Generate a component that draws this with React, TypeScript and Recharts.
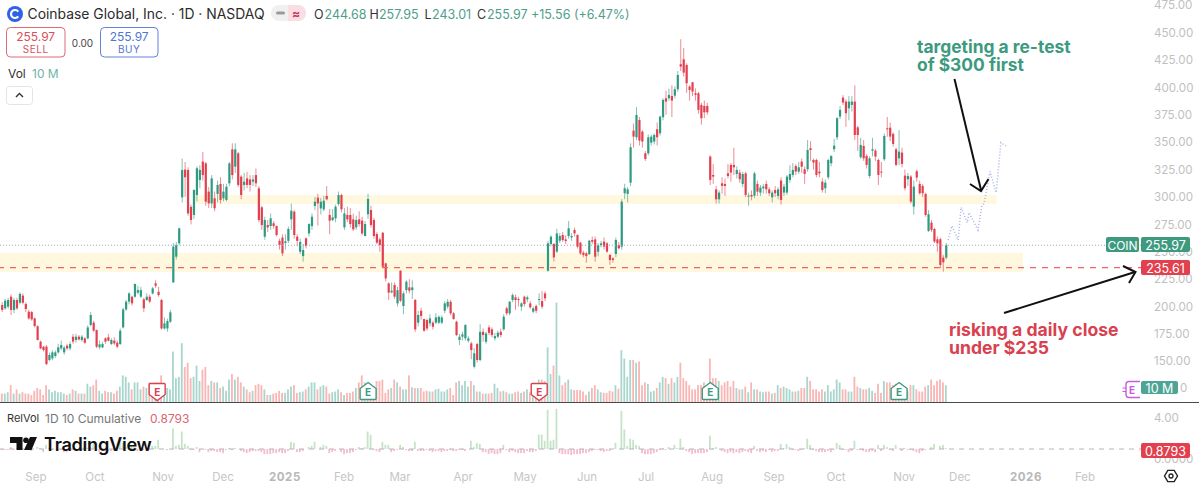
import React from "react";
import {
  ComposedChart,
  Bar,
  Line,
  XAxis,
  YAxis,
  ReferenceArea,
  ReferenceLine,
} from "recharts";

type Row = number[];

// Daily candles: [open, high, low, close]
const candlesAug24: Row[] = [
  [201.4,204,195,196.9],[198.4,207,197,205.4],[199.9,208,198,206],[209,211,192.3,196.9],[196.9,208,194,206],
  [206,208,197,198.4],[203.5,213,202,211.5],[210,212,202,203.5],[202.3,204,195,197.8],[195.3,197,188,189.2],
  [195,196,187,188.3],[189.2,190,181,182.2],
];
const candlesSep24: Row[] = [
  [182,183,169,169.5],[168,169,161,161.8],[163.4,164,159,160.3],[163.4,165,146.5,147.5],[151.2,158,150,155.8],
  [152.7,160,151,158.2],[154.9,160,153,158.2],[158.2,166,157,162.8],[161.8,169,160,164.9],[158.2,164,156,162.5],
  [164.3,166,160,161.8],[161.8,168,160,165.8],[172.5,175,166,168],[169.5,175,167,172.5],[172.5,174,169,170],
  [169.5,174,168,172.5],[171,172,166,167],[171,183,170,181],[183.2,195,182,192.3],[185.3,187,177,178],
];
const candlesOct24: Row[] = [
  [178.6,179,162,163.4],[162.8,169,161,165.5],[162.8,168,162,165.8],[171,172,166,168],[172,175,168,168.9],
  [165.8,171,165,169.5],[168.9,172,165,166.4],[167,169,162,163.4],[165.8,180,165,178],[181,199,180,197.4],
  [197.4,206,196,204.5],[204.5,213,202,212],[209,210,201,203],[209,221,208,220.6],[212.7,219,211,215],
  [209,218,208,215],[206.6,208,195,198.4],[206,212,205,209],[209,211,203,204.5],[212,218,211,216.6],
  [221.2,224,217,219],[213.5,218,209,210.5],[206,207,179,180],
];
const candlesNov24: Row[] = [
  [180,190,179,184.7],[180,189,177,186.8],[186.2,197,185,194.7],[222,258,222,254.7],[245.5,259,243,256],
  [257.7,272,256,271.4],[299.7,335,295,324.7],[325,332,300,318],[324.7,327,283,285],[291,293,275,279],
  [283.6,307,280,306.4],[301.8,328,296,326.2],[315.5,329,308,324.7],[332.3,341,315,320],[330.7,332,292,295.7],
  [304.9,309,290,294.2],[294.2,320,290,317],[298.8,305,287,289.7],[302.8,315,295,311],[311.9,318,294,297.3],
];
const candlesDec24: Row[] = [
  [298.8,312,296,304.9],[297.3,312,296,309.4],[312.5,332,310,330.7],[343.5,349,316,320],[327.7,349,322,343.5],
  [339.9,341,309,311],[318.6,320,298,301.8],[311,322,306,314],[317,323,308,311],[316,320,305,311],
  [314,320,310,316],[320,326,309,312.5],[307.9,310,277,279],[290.6,292,270,274.4],[263.8,282,261,279],
  [274.4,279,268,272.3],[273.5,285,270,280.5],[276,278,271,273.5],[273.5,274,264,265.3],[260,262,252,256.2],
  [263,266,246,248.6],
];
const candlesJan25: Row[] = [
  [258,266,252,259.5],[260,273,258,270.8],[279.6,294,270,287.5],[286.6,288,262,265.3],[263.8,266,255,260],
  [250,262,248,259],[246.1,257,241,251.6],[262.3,263,253,255.3],[266.8,276,264,275.3],[273.5,285,270,282],
  [291.8,300,288,295.7],[299.4,303,274,294.2],[289.6,299,284,295.7],[288.7,301,287,296.6],[301,310,297,297.9],
  [283.6,289,266,278.4],[279,289,278,281.4],[280.5,293,277,291.2],[293.6,305,292,301.8],[301.8,303,286,288.7],
];
const candlesFeb25: Row[] = [
  [272.3,290,270,285],[283.6,291,277,279.6],[283.6,290,272,275.3],[279.6,285,269,270.5],[272.3,283,270,279],
  [279.6,287,273,275.3],[278.4,282,265,266.8],[264.4,278,264,275.3],[284.2,303,280,298.2],[288.1,292,272,274.4],
  [279,281,262,264.4],[266.2,268,257,258.3],[261.3,263,250,256.2],[267.4,268,236,236.4],[239.4,240,223,225.7],
  [221.2,222,206,212.7],[213,222,212,214.5],[219.7,222,207,209],[202.9,218,200,215],
];
const candlesMar25: Row[] = [
  [232.7,233,204,205.3],[200.5,214,193,212],[215,224,212,222.7],[217.5,225,212,214.5],[215,224,207,217.5],
  [206,207,177,179.2],[185.3,196,182,192.3],[196.2,199,188,191.4],[188.6,189,177,178],[187.7,189,178,180],
  [184.7,193,182,189.2],[185.3,187,179,181.6],[185.3,194,184,190.1],[185.3,192,184,190.7],[185.3,192,184,190.1],
  [196.2,205,194,202.9],[199.9,207,198,204.4],[204.4,206,192,193.8],[193.8,195,188,188.6],[186.2,187,173,174],
  [169.5,175,165,172.5],
];
const candlesApr25: Row[] = [
  [172.5,177,169,174.6],[171,184,169,183.1],[168.8,173,167,171],[166.4,168,152,160.3],[145.1,162,143.5,157.3],
  [165.8,167,149,151.2],[151.2,184,150,177],[177,180,168,174],[167.9,177,166,175.5],[181,183,174,176],
  [179.2,181,172,174],[171,176,169,173],[172.5,178,171,176.1],[177,180,172,174],[179.2,193,178,190.7],
  [198.4,200,192,193.8],[193.8,205,192,204.4],[206,212,204,210.5],[208.4,211,197,206],[206.9,209,200,206],
];
const candlesMay25: Row[] = [
  [199.9,204,196,202.9],[209,210,200,202.3],[206.6,210,204,208.4],[202.9,205,198,199.3],[195.3,200,194,198.4],
  [200.5,202,194,196.2],[206,212,201,206.9],[205,214,198,199.9],[212,214,205,207.5],[232.7,260,231.8,257.7],
  [257.1,265,255,263.8],[257.1,258,241,244.9],[250.1,271,249,266.8],[260.1,267,258,264.4],[265.3,268,259,260.7],
  [261.3,265,257,259.8],[264.4,278,262,271.4],[263.2,267,260,264.4],[269.9,272,264,266.8],[265.3,266,253,254.7],
  [258.3,259,247,248.6],
];
const candlesJun25: Row[] = [
  [249.2,251,245,247],[248.6,250,240,246.1],[247.9,261,247,260.1],[260.7,264,257,259.2],[261.3,264,241,245.5],
  [250,258,246,256],[256.2,260,254,257.7],[259.3,263,252,254.7],[257.7,259,249,250.1],[247.1,248,238,242.5],
  [244,245,240,242.5],[248,263,245,260.8],[256.2,259,252,253.2],[254.7,298,252,295.8],[303.4,312,298,308],
  [302.8,309,295,307],[313.1,349,310,345.4],[360.6,367,345,355.1],[354.5,382,352,374.9],[370.3,373,347,351.5],
];
const candlesJul25: Row[] = [
  [359.7,361,345,350.6],[339.9,342,333,334.7],[339.9,357,338,354.5],[349.6,357,347,355.1],[350.6,358,348,356.6],
  [361.8,368,347,354.5],[358.2,374,356,373.4],[372.8,390,370,388.6],[390.1,397,375,387.1],[390.1,399,388,393.2],
  [392.2,402,373,388],[392.5,401,390,398.3],[398.3,415,396,411.4],[421.2,444,415,419],[425.7,436,410,413.5],
  [420.5,422,395,403.8],[400.8,402,388,397.7],[404.7,405,392,396.2],[394.7,399,388,393.2],[394.7,396,376,379.5],
  [384,386,366,371.9],[383.1,388,372,377.3],[383.1,386,375,377.3],
];
const candlesAug25: Row[] = [
  [336.9,338,311,315.6],[320.1,330,312,318.6],[307,310,294,297.9],[297.9,306,294,304],[312.5,318,303,310.1],
  [311.9,317,301,310.1],[321.6,330,317,319.2],[329.3,331,314,322.3],[329.3,345,320,327.1],[321,328,317,324.7],
  [322.3,325,313,316.2],[311.9,323,309,321],[321.6,323,300,301.9],[300.4,304,292,301.3],[301.9,306,297,300.4],
  [301.3,323,299,321.6],[311.9,315,301,304.9],[304,311,301,308.6],[308,312,303,309.5],[311.9,315,303,307],
  [307,309,301,303.4],
];
const candlesSep25: Row[] = [
  [299.7,306,295,304],[306.4,310,300,303.4],[300.9,309,298,307],[315,318,293,297.3],[304,312,301,309.5],
  [304,320,302,318.6],[315.6,329,313,321],[320.1,331,318,324.7],[328.3,330,320,323.2],[323.2,332,321,327.1],
  [332.3,335,322,327.7],[325.3,328,312,321],[325.3,352,323,342.9],[344.5,351,333,342.9],[333.8,335,325,331.4],
  [333.8,335,318,320.1],[323.2,332,318,321.6],[314,317,304,306.4],
];
const candlesOct25: Row[] = [
  [308,316,303.4,313.1],[318,335,316,333.8],[330.8,338,328,337.5],[343.6,353,341,346.9],[354.5,373,352,371.9],
  [373.4,383,371,379.5],[390.7,393,384,386.2],[387.1,389,364,376.4],[381,392,370,387.1],[384,392,378,387.1],
  [387.1,402,352,356.6],[363.6,365,342,356.6],[336.3,354,335,347.5],[346.6,352,333,335.3],[337.5,339,326,329.3],
  [319.2,337,317,335.3],[342.3,354,337,343.6],[342.3,344,333,336.9],[333.8,335,311,320.1],[323.2,332,318,322.3],
  [334.4,358,333,355.7],[362.7,373,355,361.8],[363.3,368,351,355.1],[357.6,359,346,348.4],
];
const candlesNov25: Row[] = [
  [343.6,345,328,329.3],[335.3,361,329,341.4],[340.5,345,327,330.2],[319.5,325,306,308],[316.2,322,310,319.2],
  [318.6,320,294,295.8],[291.2,315,284,309.5],[323.5,325,314,317.7],[311.9,315,302,303.4],[310.1,312,300,303.4],
  [302.8,304,282,283.6],[269,288,268,284.2],[276.6,279,268,270],[270.8,272,258,259.3],[261.4,264,250,257.7],
  [261.4,263,235,238],[244.7,247,231.9,240.4],[244.68,257.95,243.01,255.97],
];
const candles: Row[] = [
  ...candlesAug24, ...candlesSep24, ...candlesOct24, ...candlesNov24, ...candlesDec24,
  ...candlesJan25, ...candlesFeb25, ...candlesMar25, ...candlesApr25, ...candlesMay25,
  ...candlesJun25, ...candlesJul25, ...candlesAug25, ...candlesSep25, ...candlesOct25, ...candlesNov25,
];

// Volume in millions
const volumes2024: number[] = [
  6,6,7,12,6,9,6,7,6,6,5,
  8,10,9,5,12,9,7,8,7,7,
  6,5,6,9,8,6,6,6,13,11,
  12,16,8,6,8,7,7,6,8,11,
  19,18,14,9,14,14,9,11,10,14,
  12,14,14,19,10,10,9,36,17,18,
  42,25,28,17,18,26,15,23,25,12,
  15,14,14,10,11,8,16,20,16,18,
  14,11,9,7,8,12,13,12,9,5,
  5,6,6.5,8,6.5,6.5,9,11,12,6.5,
];
const volumes2025a: number[] = [
  7,7.5,9,11,14,14,9,11,12,11,
  6,7,7.5,9,7,5,6.5,6.5,7.5,10,
  14,19,14,9,7.5,6.5,15,15,16,6.5,
  9,10,16,14,11,9,9,19,10.5,10,
  10,10,7.5,8,7.5,7.5,9,9.5,7.5,7.5,
  9,10,5,14,15,12,15,11,15,12,
  7.5,7.5,6,6,6,6.5,13,10,7.5,8,
  7,6,6,7,7.5,6.5,7.5,9,7,8,
  6,16,16,15,39,20,26,71,19,12,
  14,16,9,8.5,8.5,8.5,7.5,5,7.5,10,12,9,
];
const volumes2025b: number[] = [
  7,6.5,6.5,8,7.5,12,9.5,37,31,18,
  30,30,28,29,12,14,13,7.5,8,10,
  14,18,17,13,17,14,18,28,17,15,
  12,9,9,12,12,14,12,31,17,17,
  15,12,14,15,11,15,10,9,9,11,
  7,14,9,9,7.5,7,7.5,7.5,6,6.5,
  12,10,11,10,9,7.5,7.5,8,10,10,
  18,15,9,9,7.5,9,7.5,12,7.5,9,
  16,14,9,9,7.5,7.5,18,11,10,9,
  9,10,8,6.5,13,6.5,15,14,14,12,
  13,12,9,9,7.5,12,12,9,7.5,7.5,
  11,12,16,12,15,16,14,12,10,
];
const volumes: number[] = [...volumes2024, ...volumes2025a, ...volumes2025b];

// Relative volume histogram, around 1
const relVol2024: number[] = [
  .9,.9,.9,1.2,.9,1.1,.9,.9,.9,.9,
  .8,1,1.2,1.1,.7,1.4,1.1,.9,1,.9,
  .9,.7,.7,.9,.9,.8,.8,.9,1.2,1.1,
  1.2,1.5,.9,.7,.9,.8,.8,.8,.9,1.2,
  1.7,1.6,1.2,.9,1.2,1.2,.8,1,.9,1.2,
  1.1,1.3,1.3,1.9,1,1,.9,1,3,1.3,
  1.4,2.7,1.5,1.3,.9,.9,1.2,.7,1,.9,
  .7,.8,.8,.7,.7,.6,.9,1.1,.9,1.1,
  1,.8,.7,.6,.7,.8,.8,.8,.7,.5,
  .5,.5,.6,.6,.7,.6,.6,.8,1.7,1.6,
];
const relVol2025a: number[] = [
  .7,.7,.8,1,1.2,1.3,1.7,1,1.2,1.4,
  1.3,.6,.7,.8,1,.7,.5,.6,.6,.7,
  .9,1.2,1.1,1.2,2.7,2.4,.9,.8,.7,1.7,
  1.4,1.4,.7,.8,.9,1.4,1.2,.9,.8,.8,
  1.7,.8,.8,.8,.9,.8,.7,.8,.8,.7,
  .8,.8,.9,.8,.8,.9,.9,.8,1,1.8,
  1.2,1.6,1.5,.7,.7,.5,.6,.5,.5,.6,
  1.4,.9,.7,.8,.7,.6,.6,.6,.8,.7,
  .7,.8,2.4,2.4,1.8,4.8,1.8,1.9,4.9,.6,
  .5,.5,.5,.4,.5,.5,.5,.6,.6,.7,.8,.9,.9,
];
const relVol2025b: number[] = [
  .8,.7,.8,.8,1,1.6,1,4.7,
  2.9,1.3,2,1.9,1.4,1.3,.6,.5,.5,.5,
  .6,.7,.9,1.1,.9,1.2,1,1.4,1.1,2,
  1.2,.8,.7,.5,.6,.6,.6,.6,.7,2.3,
  1.1,1.2,1,.8,.7,.6,.7,.6,.7,.6,
  .7,.8,.7,.6,1.3,.8,.7,.8,.7,.9,
  .7,.8,.8,1.5,1.1,1.5,1.2,.9,.9,.8,
  .9,1.1,2,1.4,.9,.8,.7,.7,.7,.8,
  .7,.9,1.6,1.4,.9,.9,.7,.8,1.8,.9,
  .9,.8,.7,.7,.8,.7,1.4,.8,1.4,1.2,
  .9,.8,1.4,1,.8,1.1,.9,.9,.8,.7,
  .6,.8,.9,1,1.2,1.5,1,1.3,1.4,1.1,.8793,
];
const relVol: number[] = [...relVol2024, ...relVol2025a, ...relVol2025b];

// Blue dotted projection drawn on the chart
const forecastBars: number[] = [320.6,321.9,324,325,327.1,327.7,330.7,332,332.8,334.8,336.9,338.5,340.2];
const forecastPrices: number[] = [260.8,273.6,260.8,290.6,276.6,285.7,269.9,291.2,294.3,323.2,304,349.6,346.6];

const priceTicks: number[] = [150,175,200,225,250,275,300,325,350,375,400,425,450,475];
const timeTickBars: number[] = [11.4,31.4,54.5,74.8,95.8,115.8,134.8,156.2,177.2,198.2,218.2,240.6,261.6,282.6,305.7,324.6,347,367];
const timeTickLabels: string[] = ["Sep","Oct","Nov","Dec","2025","Feb","Mar","Apr","May","Jun","Jul","Aug","Sep","Oct","Nov","Dec","2026","Feb"];
const earningsBars: number[] = [52.5,124,182,240,304];
const earningsBeat: boolean[] = [false,true,false,true,true];

const WIDTH = 1199;
const AXIS_W = 55;
const X_DOMAIN: [number, number] = [-0.78, 387];
const FONT = "Inter, 'Noto Sans', sans-serif";
const UP = "#2f9a82";
const DOWN = "#e2404e";
const GREY = "#bfbfbf";

const data = candles.map((r, i) => ({
  i,
  o: r[0],
  h: r[1],
  l: r[2],
  c: r[3],
  range: [r[2], r[1]],
  vol: volumes[i] ?? 0,
  rv: relVol[i] ?? 1,
  rvRange: [Math.min(1, relVol[i] ?? 1), Math.max(1, relVol[i] ?? 1)],
}));
const forecast = forecastBars.map((b, k) => ({ i: b, p: forecastPrices[k] }));

const Candle = (props: any) => {
  const { x, y, width, height, payload } = props;
  const { o, h, l, c } = payload;
  const up = c >= o;
  const ppu = height / Math.max(h - l, 0.001);
  const cx = x + width / 2;
  const top = y + (h - Math.max(o, c)) * ppu;
  const bh = Math.max(1, Math.abs(o - c) * ppu);
  const col = up ? UP : DOWN;
  return (
    <g>
      <line x1={cx} x2={cx} y1={y} y2={y + height} stroke={col} strokeWidth={1} strokeOpacity={0.6} />
      <rect x={cx - 1.1} y={top} width={2.2} height={bh} fill={col} />
    </g>
  );
};

const VolBar = (props: any) => {
  const { x, y, width, height, payload } = props;
  const cx = x + width / 2;
  return (
    <rect
      x={cx - 0.9}
      y={y}
      width={1.8}
      height={height}
      fill={payload.c >= payload.o ? "#a8d6cd" : "#f8b6b4"}
    />
  );
};

const RvBar = (props: any) => {
  const { x, y, width, height, payload } = props;
  const cx = x + width / 2;
  return (
    <rect
      x={cx - 0.9}
      y={y}
      width={1.8}
      height={height}
      fill={payload.rv >= 1 ? "#c6e3c8" : "#f6bccb"}
    />
  );
};

const TimeTick = (props: any) => {
  const { x, y, payload } = props;
  const label = timeTickLabels[timeTickBars.indexOf(payload.value)];
  const strong = label && label.startsWith("20");
  return (
    <text
      x={x}
      y={y + 4}
      textAnchor="middle"
      dominantBaseline="central"
      fontFamily={FONT}
      fontSize={11.5}
      fontWeight={strong ? 700 : 400}
      letterSpacing={strong ? 0.6 : 0}
      fill={strong ? "#b8b8b8" : "#c6c6c6"}
    >
      {label}
    </text>
  );
};

const EarningsMark = ({ bar, beat }: { bar: number; beat: boolean }) => {
  const cx = 2.3 + 2.95 * bar;
  const col = beat ? "#3d9a7f" : "#d9414f";
  const d = beat
    ? `M${cx},382.5 l8,6 v10 q0,1 -1,1 h-14 q-1,0 -1,-1 v-10 z`
    : `M${cx - 8},384.5 q0,-1 1,-1 h14 q1,0 1,1 v10 l-8,6 l-8,-6 z`;
  return (
    <g>
      <path d={d} fill="#fff" stroke={col} strokeWidth={1.4} />
      <text x={cx} y={392} textAnchor="middle" dominantBaseline="central" fontFamily={FONT} fontSize={10} fontWeight={700} fill={col}>
        E
      </text>
    </g>
  );
};

const Tag = ({ x, y, w, h, fill, text, size = 12.5 }: any) => (
  <g>
    <rect x={x} y={y} width={w} height={h} rx={2} fill={fill} />
    <text x={x + w / 2} y={y + h / 2 + 0.5} textAnchor="middle" dominantBaseline="central" fontFamily={FONT} fontSize={size} fill="#fff">
      {text}
    </text>
  </g>
);

const Txt = ({ x, y, fill = "#333", size = 13, weight = 400, anchor = "start", spacing = 0, children }: any) => (
  <text x={x} y={y} dominantBaseline="central" textAnchor={anchor} fontFamily={FONT} fontSize={size} fontWeight={weight} letterSpacing={spacing} fill={fill}>
    {children}
  </text>
);

const Overlay = () => (
  <svg width={WIDTH} height={486} style={{ position: "absolute", left: 0, top: 0, pointerEvents: "none" }}>
    {/* pane divider */}
    <line x1={0} x2={WIDTH} y1={402.5} y2={402.5} stroke="#4a4a4a" strokeWidth={1} />

    {/* header */}
    <circle cx={15} cy={14} r={8} fill="#2f62e6" />
    <path d="M18.2,11.6 A4,4 0 1 0 18.2,16.4" fill="none" stroke="#fff" strokeWidth={2.2} />
    <Txt x={27.5} y={14} size={13.9} fill="#2c2c2c">Coinbase Global, Inc. · 1D · NASDAQ</Txt>
    <rect x={271} y={5} width={35} height={16} rx={8} fill="#f0f0f0" />
    <path d="M288,5 h10 a8,8 0 0 1 0,16 h-10 z" fill="#fbdde4" />
    <rect x={276} y={11.5} width={9} height={3} rx={1.5} fill="#9a9a9a" />
    <Txt x={296} y={13} size={12} anchor="middle" fill="#c23a55" weight={700}>≈</Txt>

    <Txt x={314} y={14} size={12.5}>O</Txt>
    <Txt x={324.5} y={14} size={12.5} fill="#4f9e8b">244.68</Txt>
    <Txt x={369.5} y={14} size={12.5}>H</Txt>
    <Txt x={379} y={14} size={12.5} fill="#4f9e8b">257.95</Txt>
    <Txt x={424.5} y={14} size={12.5}>L</Txt>
    <Txt x={432} y={14} size={12.5} fill="#4f9e8b">243.01</Txt>
    <Txt x={477} y={14} size={12.5}>C</Txt>
    <Txt x={487} y={14} size={12.5} fill="#4f9e8b">255.97</Txt>
    <Txt x={531} y={14} size={12.5} fill="#4f9e8b">+15.56 (+6.47%)</Txt>

    <rect x={6.5} y={27.5} width={58.5} height={29.5} rx={4} fill="#fff" stroke="#dd6b75" />
    <Txt x={35.7} y={36} size={12} anchor="middle" fill="#d9505c">255.97</Txt>
    <Txt x={35.7} y={49} size={10} anchor="middle" fill="#d9505c" spacing={0.5}>SELL</Txt>
    <Txt x={82.5} y={42.5} size={10} anchor="middle" fill="#444">0.00</Txt>
    <rect x={100.5} y={27.5} width={57.5} height={29.5} rx={4} fill="#fff" stroke="#6280dc" />
    <Txt x={129.2} y={36} size={12} anchor="middle" fill="#5273d8">255.97</Txt>
    <Txt x={129.2} y={49} size={10} anchor="middle" fill="#5273d8" spacing={0.5}>BUY</Txt>

    <Txt x={8} y={73} size={12} fill="#333">Vol</Txt>
    <Txt x={32} y={73} size={12} fill="#6fb3a8">10 M</Txt>
    <rect x={6.5} y={86.5} width={26} height={18} rx={3} fill="#fff" stroke="#e4e4e4" />
    <path d="M16,97 l3.5,-3.5 l3.5,3.5" fill="none" stroke="#333" strokeWidth={1.4} />

    {/* annotations */}
    <Txt x={917} y={46} size={17.4} weight={700} fill="#3d9a7f">targeting a re-test</Txt>
    <Txt x={917} y={64} size={17.4} weight={700} fill="#3d9a7f">of $300 first</Txt>
    <path d="M954.5,79 L981,190" fill="none" stroke="#111" strokeWidth={2} />
    <path d="M970,184 L981,191 L988.5,179" fill="none" stroke="#111" strokeWidth={2} />
    <Txt x={949} y={329} size={17.6} weight={700} fill="#d9414f">risking a daily close</Txt>
    <Txt x={949} y={347} size={17.6} weight={700} fill="#d9414f">under $235</Txt>
    <path d="M1004,313 L1135,272" fill="none" stroke="#111" strokeWidth={2} />
    <path d="M1123,266 L1135.5,272 L1129,283" fill="none" stroke="#111" strokeWidth={2} />

    {/* price tags */}
    <Tag x={1106} y={237} w={33} h={15} fill="#3d9a7f" text="COIN" size={12} />
    <Tag x={1141} y={237} w={49} h={15} fill="#3d9a7f" text="255.97" />
    <Tag x={1141} y={260} w={49} h={15} fill="#e2404e" text="235.61" />
    <Tag x={1141} y={381} w={37} h={13} fill="#4ea596" text="10 M" />
    <Txt x={1180} y={388} size={11.5} fill={GREY}>0</Txt>
    <Tag x={1141} y={443} w={49} h={15} fill="#e2404e" text="0.8793" />

    {/* pending earnings */}
    <path d="M1140,381.5 h-11 a3,3 0 0 0 -3,3 v10 a3,3 0 0 0 3,3 h11" fill="none" stroke="#c95be0" strokeWidth={1.4} />
    <path d="M1122.5,388 h3.5 M1122.5,391.5 h3.5" stroke="#c95be0" strokeWidth={1.2} />
    <Txt x={1132} y={390} size={10} weight={700} anchor="middle" fill="#c95be0">E</Txt>

    {/* earnings marks */}
    {earningsBars.map((b, k) => (
      <EarningsMark key={k} bar={b} beat={earningsBeat[k]} />
    ))}

    {/* sub pane legend */}
    <Txt x={7} y={418} size={11} fill="#333">RelVol</Txt>
    <Txt x={45} y={418} size={12} fill="#777">1D 10 Cumulative</Txt>
    <Txt x={150} y={418} size={12} fill="#d9656f">0.8793</Txt>

    {/* wordmark */}
    <path d="M10,437 h12.5 v13 h-6 v-7 h-6.5 z" fill="#111" />
    <circle cx={26} cy={440.3} r={2.8} fill="#111" />
    <path d="M30,437 h7 l-5.5,13 h-7.5 z" fill="#111" />
    <Txt x={44} y={444} size={18.2} weight={600} spacing={-0.3} fill="#111">TradingView</Txt>

    {/* settings */}
    <path d="M1164.5,476 l3.3,-5.6 h6.4 l3.3,5.6 l-3.3,5.6 h-6.4 z" fill="none" stroke="#222" strokeWidth={1.4} />
    <circle cx={1171} cy={476} r={2} fill="none" stroke="#222" strokeWidth={1.3} />
  </svg>
);

export default function App() {
  return (
    <div style={{ position: "absolute", left: 0, top: 0, width: WIDTH, height: 486, background: "#fff", overflow: "hidden" }}>
      <div style={{ position: "absolute", left: 0, top: 0 }}>
        <ComposedChart width={WIDTH} height={402} data={data} margin={{ top: 0, right: 0, bottom: 0, left: 0 }}>
          <XAxis xAxisId="p" dataKey="i" type="number" domain={X_DOMAIN} allowDataOverflow hide />
          <XAxis xAxisId="v" dataKey="i" type="number" domain={X_DOMAIN} allowDataOverflow hide />
          <YAxis
            yAxisId="p"
            orientation="right"
            width={AXIS_W}
            domain={[112.9, 479.8]}
            ticks={priceTicks}
            interval={0}
            allowDataOverflow
            axisLine={false}
            tickLine={false}
            tickMargin={4}
            tick={{ fontFamily: FONT, fontSize: 11.6, fill: GREY }}
            tickFormatter={(v: number) => v.toFixed(2)}
          />
          <YAxis yAxisId="v" hide domain={[0, 287]} allowDataOverflow />
          <ReferenceArea xAxisId="p" yAxisId="p" x1={65.3} x2={337} y1={293.6} y2={301.8} fill="#fff7de" fillOpacity={1} stroke="none" />
          <ReferenceArea xAxisId="p" yAxisId="p" x1={-0.78} x2={346} y1={231.5} y2={248.9} fill="#fff7de" fillOpacity={1} stroke="none" />
          <ReferenceLine xAxisId="p" yAxisId="p" y={255.97} stroke="#9aa6b8" strokeDasharray="1 2" strokeWidth={1} />
          <ReferenceLine xAxisId="p" yAxisId="p" y={235.61} stroke="#f0616e" strokeDasharray="6 6" strokeWidth={1.2} />
          <Bar xAxisId="v" yAxisId="v" dataKey="vol" barSize={2} shape={<VolBar />} isAnimationActive={false} />
          <Bar xAxisId="p" yAxisId="p" dataKey="range" barSize={2} shape={<Candle />} isAnimationActive={false} />
          <Line
            xAxisId="p"
            yAxisId="p"
            data={forecast}
            dataKey="p"
            stroke="#a7b2ec"
            strokeWidth={1.5}
            strokeDasharray="1 2"
            dot={false}
            activeDot={false}
            isAnimationActive={false}
          />
        </ComposedChart>
      </div>
      <div style={{ position: "absolute", left: 0, top: 402 }}>
        <ComposedChart width={WIDTH} height={84} data={data} margin={{ top: 0, right: 0, bottom: 0, left: 0 }}>
          <XAxis
            dataKey="i"
            type="number"
            domain={X_DOMAIN}
            allowDataOverflow
            ticks={timeTickBars}
            interval={0}
            height={21}
            axisLine={false}
            tickLine={false}
            tick={<TimeTick />}
          />
          <YAxis
            orientation="right"
            width={AXIS_W}
            domain={[-0.55, 5.56]}
            ticks={[0, 4]}
            interval={0}
            allowDataOverflow
            axisLine={false}
            tickLine={false}
            tickMargin={4}
            tick={{ fontFamily: FONT, fontSize: 11.6, fill: GREY }}
            tickFormatter={(v: number) => (v === 4 ? "4.00" : "0.0000")}
          />
          <ReferenceLine y={1} stroke="#b5b5b5" strokeDasharray="5 5" strokeWidth={1} />
          <Bar dataKey="rvRange" barSize={2} shape={<RvBar />} isAnimationActive={false} />
        </ComposedChart>
      </div>
      <Overlay />
    </div>
  );
}
